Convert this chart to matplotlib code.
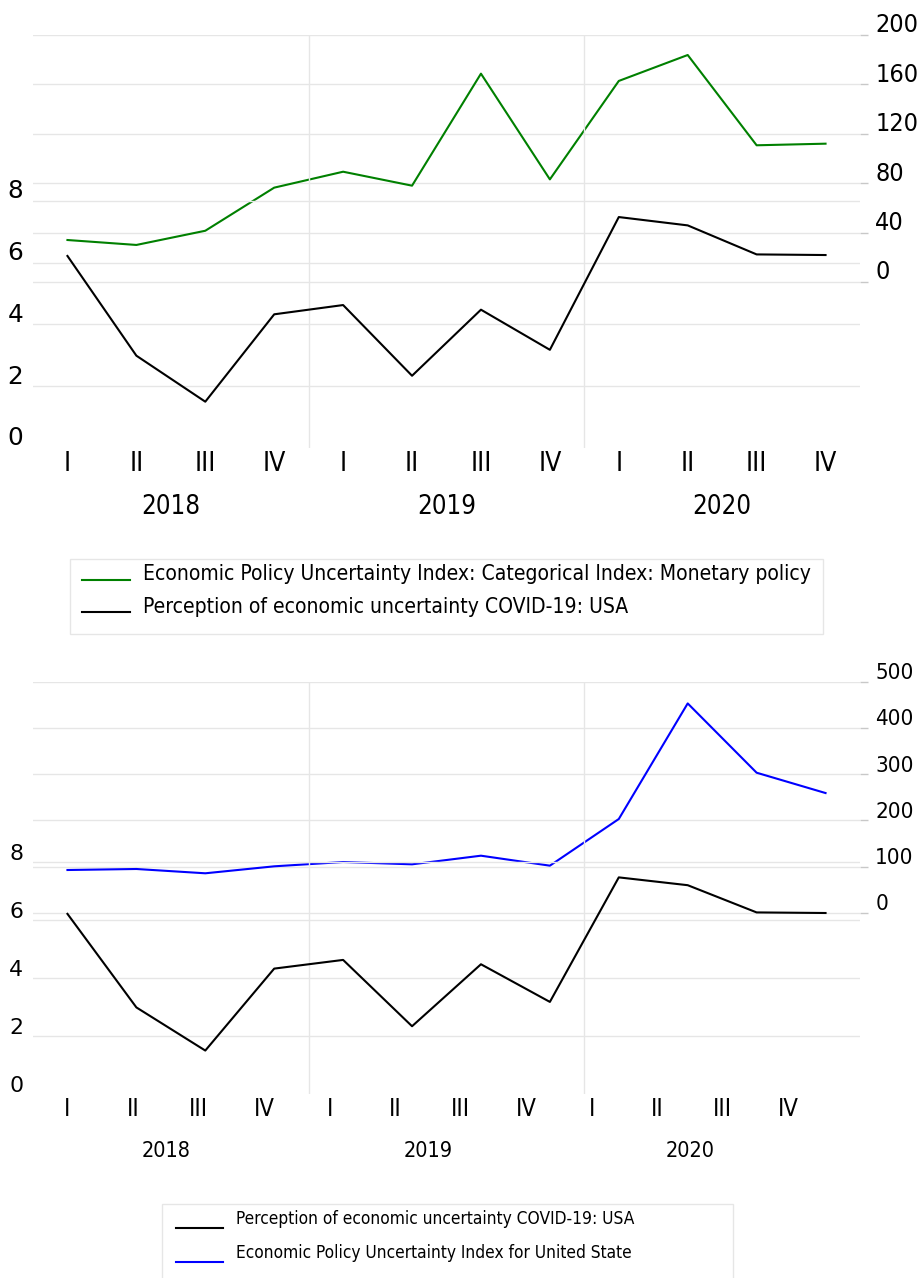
import numpy as np
import matplotlib
matplotlib.use("Agg")
import matplotlib.pyplot as plt
from matplotlib import font_manager as fm
from matplotlib.patches import Rectangle
from matplotlib.legend_handler import HandlerLine2D
from matplotlib.transforms import ScaledTranslation

# ---------------- data ----------------
quarters = ["I", "II", "III", "IV"] * 3
years = ["2018", "2019", "2020"]

perception_usa = [6.22, 2.99, 1.50, 4.33, 4.63, 2.34, 4.48, 3.18, 7.48, 7.21, 6.27, 6.25]
epu_monetary = [34, 30, 41.5, 76.4, 89.3, 78, 168.7, 83.1, 162.8, 183.8, 110.7, 112]
epu_us = [92.4, 94.6, 85.3, 100.4, 109.7, 104.7, 123.4, 101.8, 202.8, 453, 303, 259]

label_perception = "Perception of economic uncertainty COVID-19: USA"
label_monetary = "Economic Policy Uncertainty Index: Categorical Index: Monetary policy"
label_us = "Economic Policy Uncertainty Index for United State"

left_ticks = [0, 2, 4, 6, 8]
right_ticks_top = [0, 40, 80, 120, 160, 200]
right_ticks_bottom = [0, 100, 200, 300, 400, 500]

# ---------------- fonts ----------------
cond_file = None
for f in fm.fontManager.ttflist:
    if "DejaVuSansCondensed.ttf" in f.fname:
        cond_file = f.fname
        break


def fp_cond(size):
    if cond_file:
        return fm.FontProperties(fname=cond_file, size=size)
    return fm.FontProperties(family="DejaVu Sans", size=size * 0.9)


def fp_plain(size):
    return fm.FontProperties(family="DejaVu Sans", size=size)


class LowLineHandler(HandlerLine2D):
    """Legend line drawn near the text baseline."""
    def __init__(self, drop=0.33, **kw):
        super().__init__(**kw)
        self.drop = drop

    def create_artists(self, legend, orig_handle, xdescent, ydescent,
                       width, height, fontsize, trans):
        arts = super().create_artists(legend, orig_handle, xdescent, ydescent,
                                      width, height, fontsize, trans)
        for a in arts:
            a.set_ydata(np.asarray(a.get_ydata()) - self.drop * fontsize)
        return arts


GRID = "#e6e6e6"
W, H = 921, 1278
fig = plt.figure(figsize=(W / 100, H / 100), dpi=100)
lift = ScaledTranslation(0, 2.5 / 100, fig.dpi_scale_trans)


def fx(px):
    return px / W


def fy(py):
    return 1 - py / H


x = np.arange(len(quarters))


def setup_panel(top_px, bot_px, left_max, right_min, right_max, right_ticks,
                series, color, tick_scale, fp_x, fp_year, fp_right, left_size,
                qpad, ypad):
    ax = fig.add_axes([fx(33), fy(bot_px), fx(860) - fx(33), (bot_px - top_px) / H])
    axr = ax.twinx()
    for a in (ax, axr):
        for s in a.spines.values():
            s.set_visible(False)
        a.set_xlim(-0.5, 11.5)
    ax.set_ylim(0, left_max)
    axr.set_ylim(right_min, right_max)

    # year separators
    for b in (3.5, 7.5):
        ax.axvline(b, color=GRID, lw=1, zorder=0)

    # left axis
    ax.set_yticks(left_ticks)
    ax.set_yticklabels([str(t) for t in left_ticks])
    ax.tick_params(axis="y", length=0, pad=7)
    ax.grid(axis="y", color=GRID, lw=1)
    ax.yaxis.get_gridlines()[0].set_visible(False)
    for lab in ax.get_yticklabels():
        lab.set_fontproperties(fp_plain(left_size))
        lab.set_va("baseline")
        lab.set_transform(lab.get_transform() + lift)

    # right axis
    axr.set_yticks(right_ticks)
    axr.set_yticklabels([str(t) for t in right_ticks])
    axr.tick_params(axis="y", length=6, width=1, color="#c8c8c8", pad=5)
    axr.grid(axis="y", color=GRID, lw=1)
    for lab in axr.get_yticklabels():
        lab.set_fontproperties(fp_right)
        lab.set_va("baseline")
        lab.set_transform(lab.get_transform() + lift)

    # x axis: quarters + years
    qpos = x * tick_scale
    ax.set_xticks(qpos)
    ax.set_xticklabels(quarters)
    ax.set_xticks([1.5 * tick_scale, 5.5 * tick_scale, 9.5 * tick_scale], minor=True)
    ax.set_xticklabels(years, minor=True)
    ax.tick_params(axis="x", which="major", length=0, pad=qpad)
    ax.tick_params(axis="x", which="minor", length=0, pad=ypad)
    axr.tick_params(axis="x", which="both", length=0)
    for lab in ax.get_xticklabels():
        lab.set_fontproperties(fp_x)
    for lab in ax.get_xticklabels(minor=True):
        lab.set_fontproperties(fp_year)

    ax.set_zorder(1)
    ax.patch.set_visible(False)
    (kline,) = ax.plot(x, perception_usa, color="black", lw=1.5, zorder=3)
    (cline,) = axr.plot(x, series, color=color, lw=1.5, zorder=3)
    return ax, axr, kline, cline


# ---------------- top panel ----------------
ax1, ax1r, k1, g1 = setup_panel(
    35, 448, (448 - 35) / 30.875, -(448 - 282) / 1.235, 200, right_ticks_top,
    epu_monetary, "green", 1.0,
    fp_cond(19), fp_cond(18.5), fp_cond(18), 17.8, 2, 33)

fig.patches.append(Rectangle((fx(70), fy(634)), fx(823) - fx(70), (634 - 559) / H,
                             transform=fig.transFigure, fill=False,
                             edgecolor=GRID, lw=1))
fig.legend([g1, k1], [label_monetary, label_perception], loc="upper left",
           bbox_to_anchor=(fx(82), fy(564)), frameon=False, borderpad=0,
           borderaxespad=0, handlelength=2.3, handletextpad=0.62,
           labelspacing=0.6, prop=fp_cond(15.1),
           handler_map={matplotlib.lines.Line2D: LowLineHandler(0.33)})

# ---------------- bottom panel ----------------
ax2, ax2r, k2, b2 = setup_panel(
    681.7, 1094, (1094 - 681.7) / 28.96, -(1094 - 912.7) / 0.462, 500, right_ticks_bottom,
    epu_us, "blue", 10.46 / 11,
    fp_cond(17), fp_cond(15.5), fp_cond(16), 15.8, 2, 34)

fig.patches.append(Rectangle((fx(162), fy(1290)), fx(733) - fx(162), (1290 - 1204) / H,
                             transform=fig.transFigure, fill=False,
                             edgecolor=GRID, lw=1))
fig.legend([k2, b2], [label_perception, label_us], loc="upper left",
           bbox_to_anchor=(fx(176), fy(1210)), frameon=False, borderpad=0,
           borderaxespad=0, handlelength=2.75, handletextpad=0.76,
           labelspacing=0.9, prop=fp_cond(12.4),
           handler_map={matplotlib.lines.Line2D: LowLineHandler(0.6)})

fig.savefig("out.png", dpi=100)
